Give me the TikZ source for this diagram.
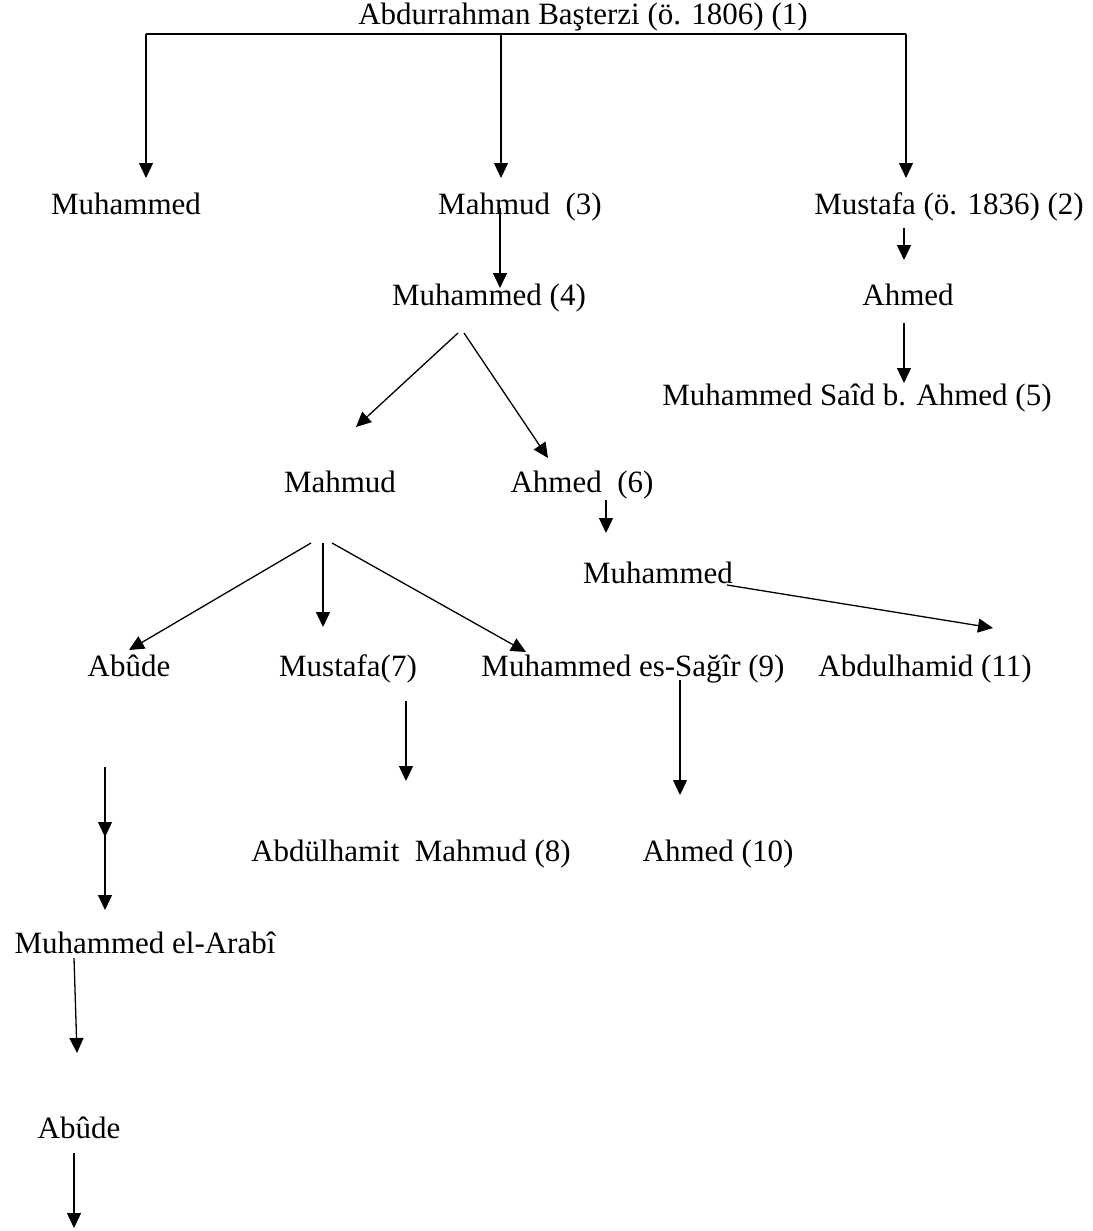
\documentclass[tikz,border=0pt]{standalone}
\usepackage{fontspec}
\setmainfont{Liberation Serif}
\usetikzlibrary{arrows.meta}
\begin{document}
\begin{tikzpicture}[x=1pt,y=-1pt,
  lbl/.style={inner sep=0pt, anchor=base, font=\fontsize{31}{36}\selectfont},
  ln/.style={line width=1.3pt},
  arr/.style={line width=1.3pt, -{Triangle[length=15pt,width=14pt]}}]
\useasboundingbox (0,0) rectangle (1092,1231);
% nodes
\node[lbl] (n1)  at (583,25)  {Abdurrahman Başterzi (ö. 1806) (1)};
\node[lbl] (n2a) at (126,214) {Muhammed};
\node[lbl] (n2b) at (520,214) {Mahmud\ \ (3)};
\node[lbl] (n2c) at (949,214) {Mustafa (ö. 1836) (2)};
\node[lbl] (n3a) at (489,305) {Muhammed (4)};
\node[lbl] (n3b) at (908,305) {Ahmed};
\node[lbl] (n4)  at (857,405) {Muhammed Saîd b. Ahmed (5)};
\node[lbl] (n5a) at (340,492) {Mahmud};
\node[lbl] (n5b) at (582,492) {Ahmed\ \ (6)};
\node[lbl] (n6)  at (658,583) {Muhammed};
\node[lbl] (n7a) at (129,676) {Abûde};
\node[lbl] (n7b) at (348,676) {Mustafa(7)};
\node[lbl] (n7c) at (633,676) {Muhammed es-Sağîr (9)};
\node[lbl] (n7d) at (925,676) {Abdulhamid (11)};
\node[lbl] (n8a) at (411,861) {Abdülhamit\ \ Mahmud (8)};
\node[lbl] (n8b) at (718,861) {Ahmed (10)};
\node[lbl] (n9)  at (145,953) {Muhammed el-Arabî};
\node[lbl] (n10) at (79,1138) {Abûde};
\coordinate (end) at (74,1228);
% connectors
\draw[ln] ([shift={(-437,9)}]n1.base) -- ([shift={(323,9)}]n1.base);
\draw[arr] ([shift={(-437,9)}]n1.base) -- ([shift={(20,-36)}]n2a.base);
\draw[arr] ([shift={(-82,9)}]n1.base) -- ([shift={(-19,-36)}]n2b.base);
\draw[arr] ([shift={(323,9)}]n1.base) -- ([shift={(-43,-36)}]n2c.base);
\draw[arr] ([shift={(-20,-6)}]n2b.base) -- ([shift={(11,-17)}]n3a.base);
\draw[arr] ([shift={(-45,14)}]n2c.base) -- ([shift={(-4,-45)}]n3b.base);
\draw[arr] ([shift={(-4,18)}]n3b.base) -- ([shift={(47,-22)}]n4.base);
\draw[arr] ([shift={(-31,28)}]n3a.base) -- ([shift={(16,-65)}]n5a.base);
\draw[arr] ([shift={(-25,28)}]n3a.base) -- ([shift={(-34,-34)}]n5b.base);
\draw[arr] ([shift={(24,8)}]n5b.base) -- ([shift={(-52,-50)}]n6.base);
\draw[arr] ([shift={(69,2)}]n6.base) -- ([shift={(68,-48)}]n7d.base);
\draw[arr] ([shift={(-29,51)}]n5a.base) -- ([shift={(0,-26)}]n7a.base);
\draw[arr] ([shift={(-17,51)}]n5a.base) -- ([shift={(-25,-49)}]n7b.base);
\draw[arr] ([shift={(-8,51)}]n5a.base) -- ([shift={(-107,-24)}]n7c.base);
\draw[arr] ([shift={(58,25)}]n7b.base) -- ([shift={(-5,-80)}]n8a.base);
\draw[arr] ([shift={(47,4)}]n7c.base) -- ([shift={(-38,-66)}]n8b.base);
\draw[arr] ([shift={(-24,91)}]n7a.base) -- ([shift={(-40,-43)}]n9.base);
\draw[arr] ([shift={(-24,91)}]n7a.base) -- ([shift={(-40,-116)}]n9.base);
\draw[arr] ([shift={(-71,5)}]n9.base) -- ([shift={(-2,-85)}]n10.base);
\draw[arr] ([shift={(-5,15)}]n10.base) -- (end);
\end{tikzpicture}
\end{document}
